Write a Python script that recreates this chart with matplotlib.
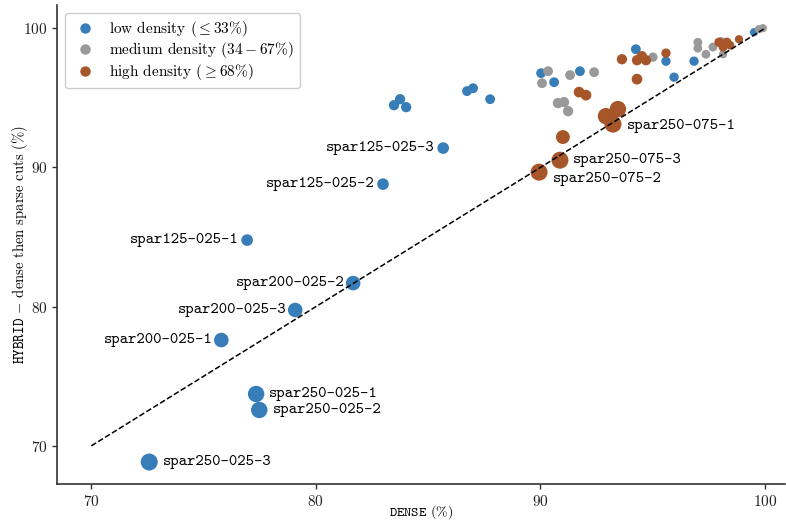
import matplotlib
matplotlib.use("Agg")
import matplotlib.pyplot as plt
from matplotlib.lines import Line2D

plt.rcParams['font.family'] = ['cmr10', 'DejaVu Serif']
plt.rcParams['mathtext.fontset'] = 'cm'
plt.rcParams['axes.formatter.use_mathtext'] = True
plt.rcParams['axes.unicode_minus'] = False

BLUE, GRAY, BROWN = '#377eb8', '#999999', '#a65628'

# low density (<= 33%)
low_dense = [72.58, 77.34, 77.48, 75.79, 79.08, 81.66, 76.94, 82.99, 85.67,
             83.48, 83.75, 84.02, 86.73, 87.00, 87.76, 90.03, 90.61, 91.76,
             94.25, 95.59, 95.95, 96.84, 99.51]
low_hybrid = [68.84, 73.73, 72.58, 77.60, 79.76, 81.69, 84.78, 88.80, 91.39,
              94.47, 94.90, 94.33, 95.48, 95.69, 94.90, 96.77, 96.12, 96.91,
              98.49, 97.63, 96.48, 97.63, 99.71]
low_size = [150, 140, 140, 110, 110, 110, 70, 70, 70,
            55, 55, 55, 50, 50, 50, 50, 50, 50, 50, 45, 45, 45, 35]
low_names = ['spar250-025-3', 'spar250-025-1', 'spar250-025-2',
             'spar200-025-1', 'spar200-025-3', 'spar200-025-2',
             'spar125-025-1', 'spar125-025-2', 'spar125-025-3']

# medium density (34 - 67%)
med_dense = [90.34, 90.07, 91.32, 92.39, 90.78, 91.05, 91.23, 95.01, 97.01,
             97.01, 97.37, 97.68, 98.13, 98.04, 99.73, 99.90]
med_hybrid = [96.91, 96.05, 96.63, 96.84, 94.62, 94.69, 94.04, 97.92, 98.99,
              98.56, 98.13, 98.64, 98.13, 99.07, 99.93, 100.0]
med_size = [50, 50, 50, 50, 55, 55, 55, 45, 40, 40, 40, 40, 35, 35, 35, 35]

# high density (>= 68%)
high_dense = [93.23, 89.94, 90.87, 92.92, 93.45, 91.00, 93.63, 94.30, 94.52,
              94.70, 95.59, 94.30, 91.72, 92.03, 97.95, 98.30, 98.44, 98.13,
              98.84]
high_hybrid = [93.11, 89.66, 90.52, 93.68, 94.19, 92.18, 97.77, 97.70, 97.99,
               97.70, 98.21, 96.34, 95.41, 95.19, 98.99, 98.99, 98.78, 98.64,
               99.21]
high_size = [150, 150, 150, 140, 140, 100, 55, 55, 55, 55, 45, 60, 60, 60,
             45, 45, 40, 40, 35]
high_names = ['spar250-075-1', 'spar250-075-2', 'spar250-075-3']

legend_labels = [r'low density $(\leq 33\%)$',
                 r'medium density $(34-67\%)$',
                 r'high density $(\geq 68\%)$']

fig, ax = plt.subplots(figsize=(7.86, 5.22), dpi=100)
fig.subplots_adjust(left=0.073, right=0.999, bottom=0.073, top=0.99)

ax.scatter(low_dense, low_hybrid, s=low_size, c=BLUE, linewidths=0, zorder=2)
ax.scatter(med_dense, med_hybrid, s=med_size, c=GRAY, linewidths=0, zorder=2)
ax.scatter(high_dense, high_hybrid, s=high_size, c=BROWN, linewidths=0, zorder=2)

ax.plot([70, 100], [70, 100], 'k--', lw=1.1, zorder=3)

tt = dict(family='cmtt10', fontsize=11.5, va='center', textcoords='offset points')
for i, name in enumerate(low_names):
    x, y = low_dense[i], low_hybrid[i]
    if name.startswith('spar250'):
        ax.annotate(name, (x, y), xytext=(9.5, 0), ha='left', **tt)
    else:
        ax.annotate(name, (x, y), xytext=(-6, 0), ha='right', **tt)
offsets = {'spar250-075-1': (10, -1), 'spar250-075-2': (10, -5),
           'spar250-075-3': (9.5, 0)}
for i, name in enumerate(high_names):
    ax.annotate(name, (high_dense[i], high_hybrid[i]), xytext=offsets[name],
                ha='left', **tt)

ax.set_xlim(68.49, 100.9)
ax.set_ylim(67.27, 101.65)
ax.set_xticks([70, 80, 90, 100])
ax.set_yticks([70, 80, 90, 100])
ax.tick_params(labelsize=11, length=3.5, width=1, colors='#333333', labelcolor='#222222')
for side in ['top', 'right']:
    ax.spines[side].set_visible(False)
for side in ['left', 'bottom']:
    ax.spines[side].set_linewidth(1.2)
    ax.spines[side].set_color('#333333')

ax.set_xlabel(r'$\mathtt{DENSE}$ (%)', fontsize=10)
ax.set_ylabel(r'$\mathtt{HYBRID}$ $-$ dense then sparse cuts (%)', fontsize=10.5)
ax.xaxis.set_label_coords(0.5, -0.041)
ax.yaxis.set_label_coords(-0.037, 0.5)

handles = [Line2D([], [], ls='', marker='o', ms=7.5, mfc=c, mec='none')
           for c in (BLUE, GRAY, BROWN)]
ax.legend(handles, legend_labels, loc='upper left', fontsize=11,
          handletextpad=0.7, borderpad=0.4, labelspacing=0.1, handlelength=1.8,
          framealpha=1, edgecolor='#cccccc')

fig.savefig('out.png', dpi=100)
